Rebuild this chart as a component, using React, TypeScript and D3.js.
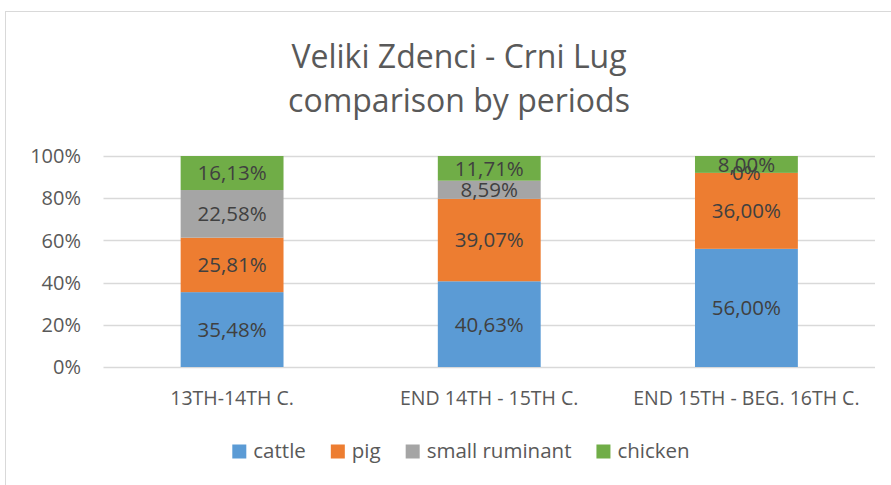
import React, { useRef, useEffect } from 'react';
import * as d3 from 'd3';

const categories = ['13TH-14TH C.', 'END 14TH - 15TH C.', 'END 15TH - BEG. 16TH C.'];
const seriesNames = ['cattle', 'pig', 'small ruminant', 'chicken'];
const cattle = [35.48, 40.63, 56.0];
const pig = [25.81, 39.07, 36.0];
const smallRuminant = [22.58, 8.59, 0];
const chicken = [16.13, 11.71, 8.0];
const colors = ['#5B9BD5', '#ED7D31', '#A5A5A5', '#70AD47'];
const yTicks = [0, 20, 40, 60, 80, 100];

export default function App() {
  const svgRef = useRef<SVGSVGElement>(null);

  useEffect(() => {
    const width = 891;
    const height = 485;
    const svg = d3.select(svgRef.current);
    svg.selectAll('*').remove();
    svg.attr('width', width).attr('height', height);

    const font = '"Open Sans", sans-serif';

    // chart frame
    svg.append('rect')
      .attr('x', 5.5).attr('y', 11.5)
      .attr('width', width + 10).attr('height', height + 10)
      .attr('fill', '#fff').attr('stroke', '#d9d9d9');

    // title
    const title = svg.append('text')
      .attr('text-anchor', 'middle')
      .attr('fill', '#595959')
      .style('font-family', font)
      .style('font-size', '32px');
    title.append('tspan').attr('x', 459).attr('y', 68).text('Veliki Zdenci - Crni Lug');
    title.append('tspan').attr('x', 459).attr('y', 112).text('comparison by periods');

    const x = d3.scaleBand().domain(categories).range([103.5, 875]).paddingInner(0.6).paddingOuter(0.3);
    const y = d3.scaleLinear().domain([0, 100]).range([367, 156]);

    // gridlines
    svg.append('g').selectAll('line').data(yTicks).join('line')
      .attr('x1', 103.5).attr('x2', 875)
      .attr('y1', d => Math.round(y(d)) + 0.5).attr('y2', d => Math.round(y(d)) + 0.5)
      .attr('stroke', '#d9d9d9').attr('stroke-width', 1.3);

    // y axis labels
    svg.append('g').selectAll('text').data(yTicks).join('text')
      .attr('x', 81).attr('y', d => y(d)).attr('dy', '0.36em')
      .attr('text-anchor', 'end').attr('fill', '#595959')
      .style('font-family', font).style('font-size', '20px')
      .text(d => d + '%');

    // stack
    const table = categories.map((c, i) => ({
      cat: c,
      cattle: cattle[i],
      pig: pig[i],
      'small ruminant': smallRuminant[i],
      chicken: chicken[i],
    }));
    const stack = d3.stack<any>().keys(seriesNames)(table);

    const groups = svg.append('g').selectAll('g').data(stack).join('g')
      .attr('fill', (_, i) => colors[i]);
    groups.selectAll('rect').data(d => d).join('rect')
      .attr('x', d => x(d.data.cat)!)
      .attr('width', x.bandwidth())
      .attr('y', d => y(d[1]))
      .attr('height', d => y(d[0]) - y(d[1]));

    // data labels
    const labels = svg.append('g');
    stack.forEach(s => {
      s.forEach(d => {
        const v = d[1] - d[0];
        const txt = v === 0 ? '0%' : v.toFixed(2).replace('.', ',') + '%';
        labels.append('text')
          .attr('x', x(d.data.cat)! + x.bandwidth() / 2)
          .attr('y', (y(d[0]) + y(d[1])) / 2)
          .attr('dy', '0.36em')
          .attr('text-anchor', 'middle')
          .attr('fill', '#404040')
          .style('font-family', font).style('font-size', '20.5px')
          .text(txt);
      });
    });

    // category labels
    svg.append('g').selectAll('text').data(categories).join('text')
      .attr('x', d => x(d)! + x.bandwidth() / 2).attr('y', 398)
      .attr('dy', '0.36em').attr('text-anchor', 'middle')
      .attr('fill', '#595959')
      .style('font-family', font).style('font-size', '19.5px')
      .text(d => d);

    // legend
    const legend = svg.append('g');
    let lx = 0;
    seriesNames.forEach((name, i) => {
      const g = legend.append('g').attr('transform', `translate(${lx},0)`);
      g.append('rect').attr('x', 0).attr('y', -6.5).attr('width', 14).attr('height', 14).attr('fill', colors[i]);
      const t = g.append('text').attr('x', 21).attr('y', 0).attr('dy', '0.36em')
        .attr('fill', '#595959')
        .style('font-family', font).style('font-size', '20.5px')
        .text(name);
      const w = (t.node() as SVGTextElement).getComputedTextLength();
      lx += 21 + w + 25;
    });
    const total = lx - 25;
    legend.attr('transform', `translate(${461 - total / 2},451)`);
  }, []);

  return (
    <svg ref={svgRef} style={{ position: 'absolute', left: 0, top: 0, display: 'block' }}></svg>
  );
}
